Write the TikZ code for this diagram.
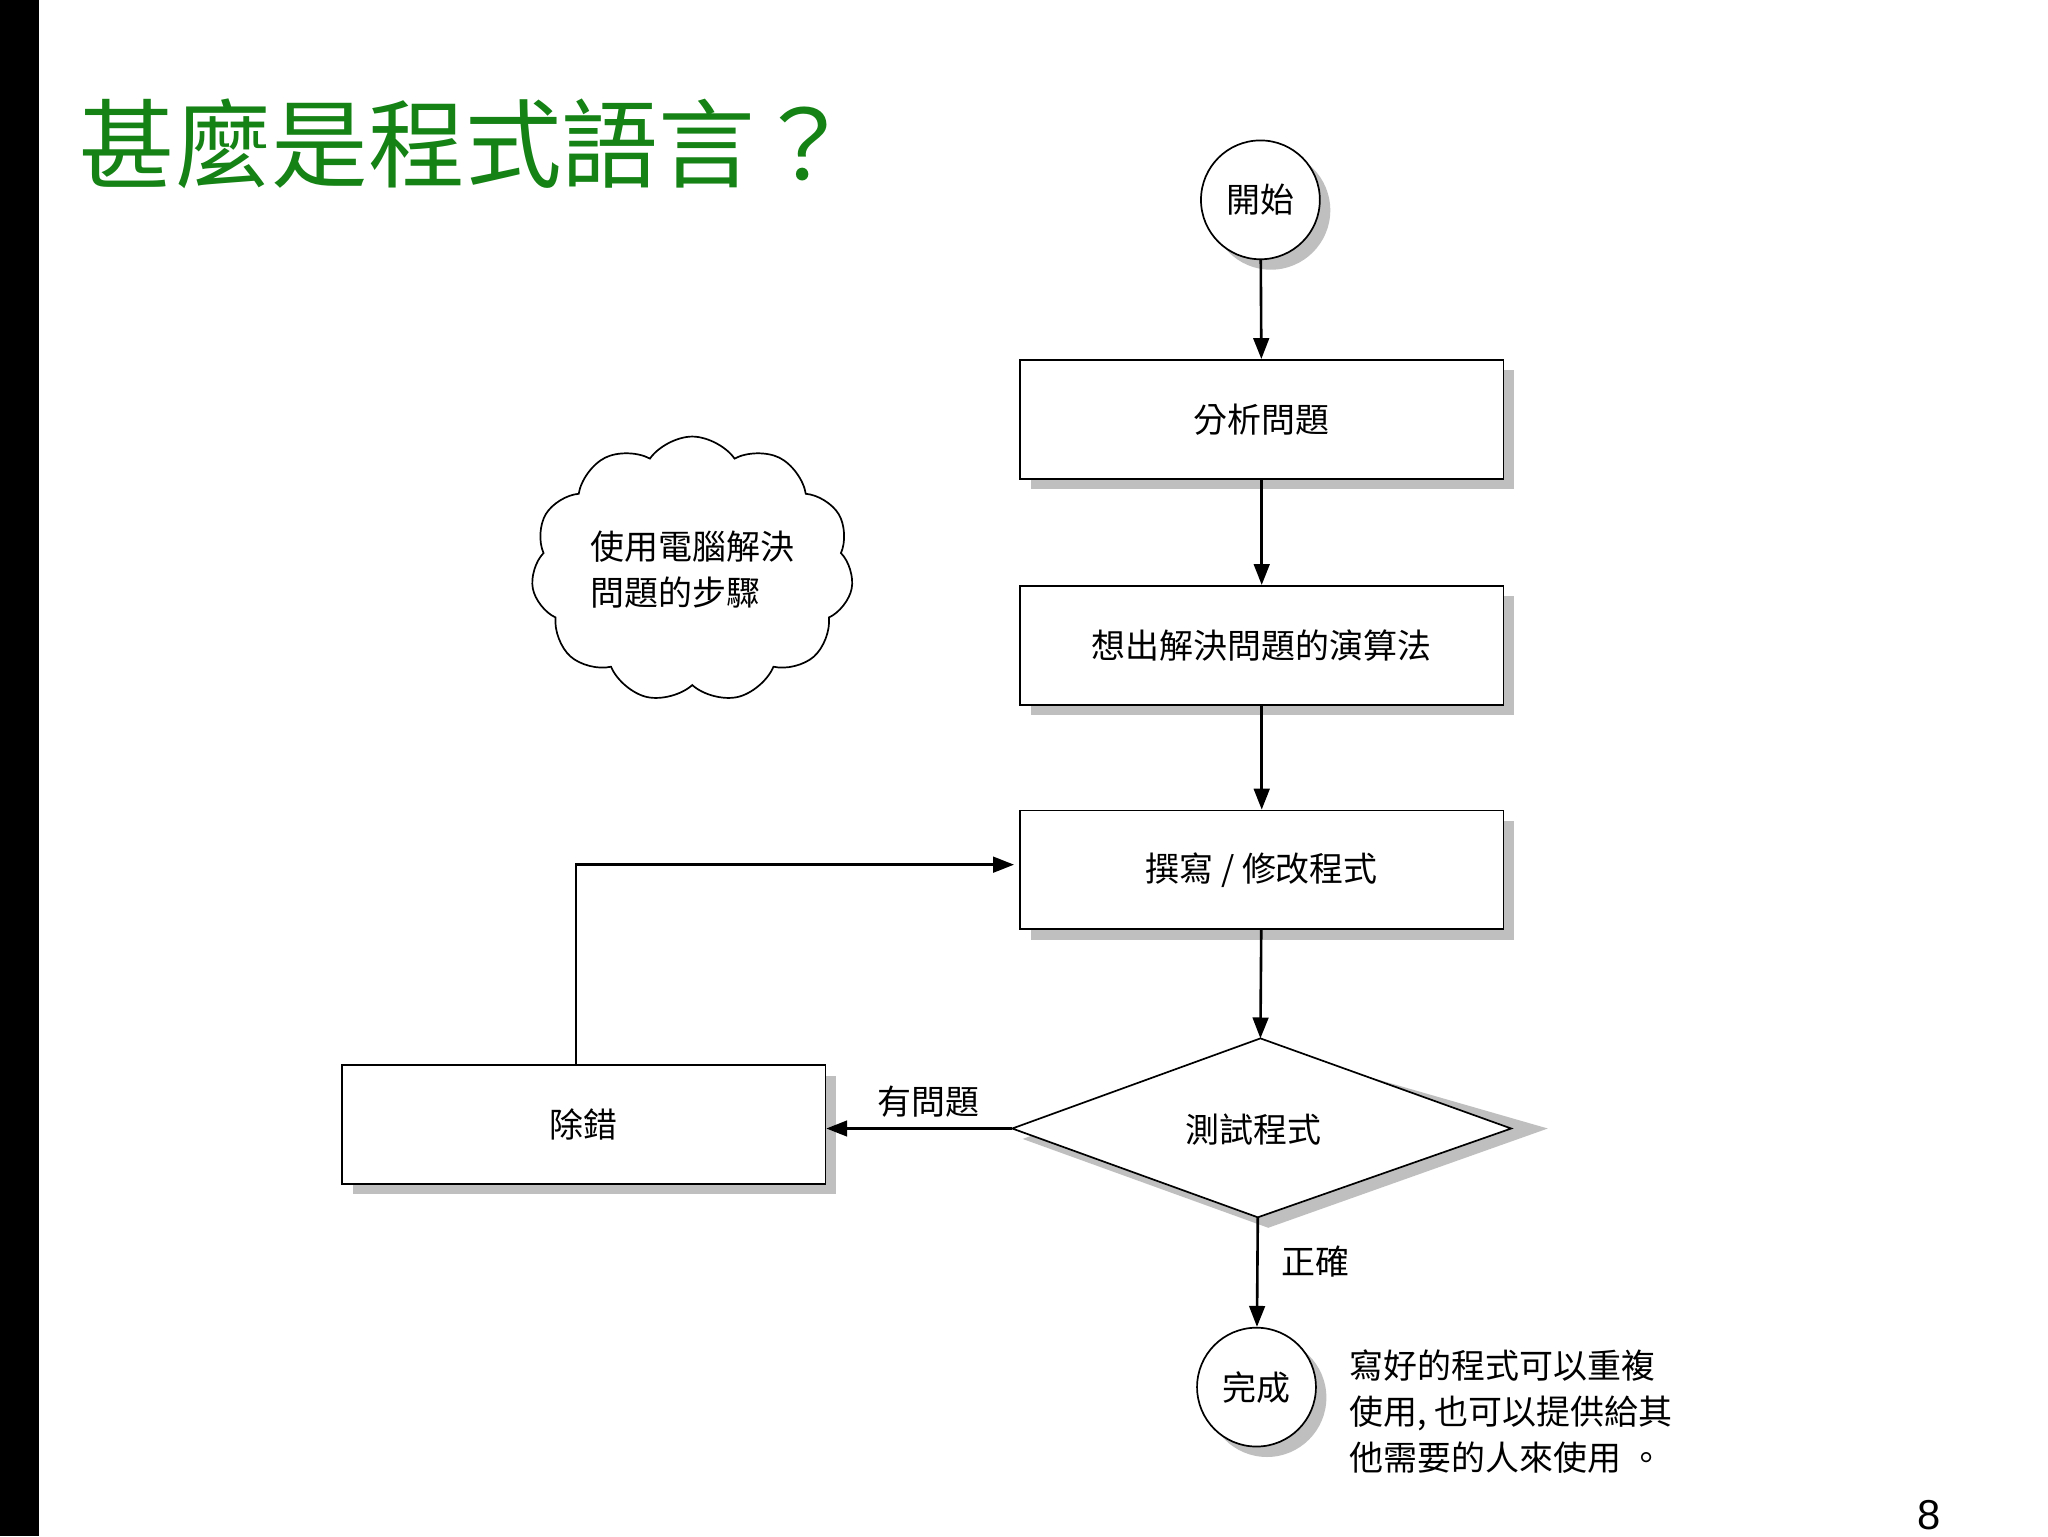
\documentclass[tikz,border=0pt]{standalone}
\usepackage{fontspec}
\newfontfamily\cjk{Noto Sans CJK TC}
\setsansfont{Liberation Sans}
\usetikzlibrary{shapes.geometric,shapes.symbols,shadows,arrows.meta,calc}
\definecolor{titlegreen}{RGB}{20,130,20}
\tikzset{
 shd/.style={drop shadow={shadow xshift=8pt,shadow yshift=-8pt,fill=black!25,opacity=1}},
 stepbox/.style={draw,line width=1.3pt,fill=white,shd,minimum width=370pt,minimum height=91pt,font=\cjk\fontsize{26}{30}\selectfont},
 term/.style={draw,circle,line width=1.3pt,fill=white,shd,minimum size=91pt,inner sep=0pt,font=\cjk\fontsize{26}{30}\selectfont},
 conn/.style={line width=2pt,-{Triangle[length=16pt,width=12pt]}},
 lab/.style={font=\cjk\fontsize{26}{30}\selectfont}
}
\begin{document}
\begin{tikzpicture}[x=1pt,y=-1pt]
\useasboundingbox (0,0) rectangle (1568,1176);
\fill[white] (0,0) rectangle (1568,1176);
\fill[black] (0,0) rectangle (30,1176);
\node[anchor=west,text=titlegreen,font=\cjk\fontsize{74}{78}\selectfont,inner sep=0] at (60,110) {甚麼是程式語言？};
\node[term] (start) at (965,153) {開始};
\node[stepbox] (b1) at (966,321) {分析問題};
\node[stepbox] (b2) at (966,494) {想出解決問題的演算法};
\node[stepbox] (b3) at (966,666) {撰寫 / 修改程式};
\node[stepbox] (dbg) at (447,861) {除錯};
\coordinate (dl) at (775,864); \coordinate (dt) at (965,795);
\coordinate (dr) at (1157,864); \coordinate (db) at (963,932);
\fill[black!25] ($(dl)+(8,8)$) -- ($(dt)+(8,8)$) -- ($(dr)+(28,0)$) -- ($(db)+(8,8)$) -- cycle;
\draw[line width=1.3pt,fill=white] (dl) -- (dt) -- (dr) -- (db) -- cycle;
\node[lab] (test) at (960,865) {測試程式};
\node[term] (done) at (962,1062) {完成};
\draw[conn] (start) -- (b1);
\draw[conn] (b1) -- (b2);
\draw[conn] (b2) -- (b3);
\draw[conn] (b3) -- (dt);
\draw[conn] (dl) -- (dl -| dbg.east) node[lab,pos=0.45,above=4pt] {有問題};
\draw[conn] ([xshift=-6pt]dbg.north) |- ([xshift=-4pt,yshift=4pt]b3.west);
\draw[conn] (db) -- (done) node[lab,pos=0.4,right=14pt] {正確};
\node[anchor=north west,align=left,font=\cjk\fontsize{26}{35}\selectfont] (note) at (1030,1030) {寫好的程式可以重複\\使用, 也可以提供給其\\他需要的人來使用 。};
\node[draw,cloud,cloud puffs=11,cloud puff arc=110,aspect=1.3,line width=1.3pt,minimum width=240pt,minimum height=185pt,align=left,font=\cjk\fontsize{26}{35}\selectfont] (cloud) at (530,436) {使用電腦解決\\問題的步驟};
\node[font=\sffamily\fontsize{32}{36}\selectfont] (pg) at (1477,1160) {8};
\end{tikzpicture}
\end{document}
